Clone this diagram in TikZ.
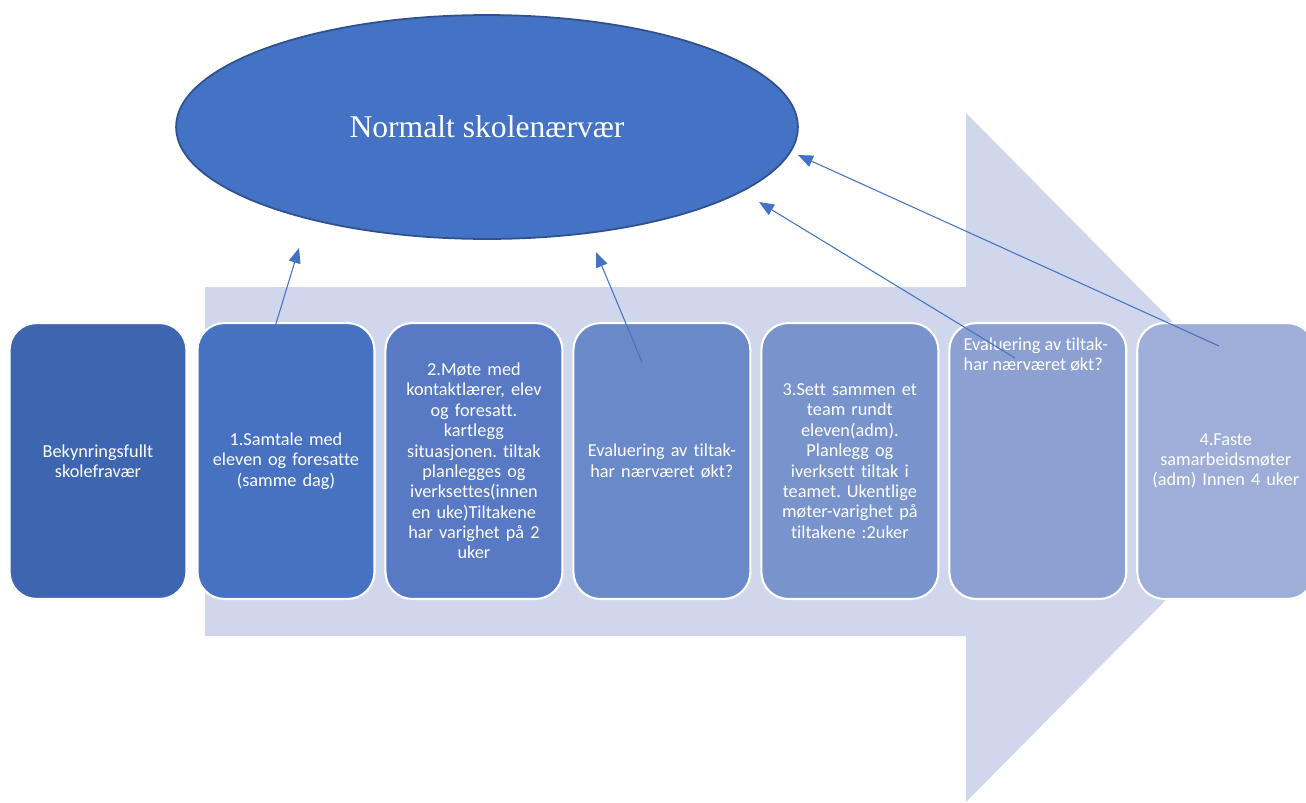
\documentclass[tikz,border=0pt]{standalone}
\usepackage{fontspec}
\setmainfont{Carlito}[Ligatures=NoCommon]
\newfontfamily\ovalfont{Liberation Serif}
\usetikzlibrary{positioning,shapes.geometric,arrows.meta}
\frenchspacing

\definecolor{arrowbg}{HTML}{D0D6EB}
\definecolor{ovalfill}{HTML}{4472C4}
\definecolor{ovaledge}{HTML}{2F528F}
\definecolor{linkblue}{HTML}{4472C4}
\definecolor{boxA}{HTML}{3E66B0}
\definecolor{boxB}{HTML}{4672C1}
\definecolor{boxC}{HTML}{5879C4}
\definecolor{boxD}{HTML}{6A89C8}
\definecolor{boxE}{HTML}{7994CC}
\definecolor{boxF}{HTML}{8CA1D2}
\definecolor{boxG}{HTML}{9EAED8}

\begin{document}
\begin{tikzpicture}[x=0.02cm, y=-0.02cm,
  >={Triangle[length=0.3cm,width=0.24cm]},
  stepbox/.style={rectangle, rounded corners=0.54cm, draw=white, line width=1.2pt,
    minimum width=3.54cm, minimum height=5.52cm, outer sep=0pt, text=white,
    align=center, text width=3.2cm, font=\fontsize{10.4}{11.6}\selectfont},
  link/.style={->, draw=linkblue, line width=0.6pt}]

  % canvas
  \useasboundingbox (0,0) rectangle (1306,802);

  % big background arrow
  \fill[arrowbg] (205,287) -- (966,287) -- (966,113) -- (1307,457.5)
    -- (966,802) -- (966,636) -- (205,636) -- cycle;

  % goal
  \node[ellipse, fill=ovalfill, draw=ovaledge, line width=1pt,
    minimum width=12.44cm, minimum height=4.48cm, text=white,
    font=\ovalfont\fontsize{18}{20}\selectfont] (goal) at (487,127)
    {Normalt skolenærvær};

  % steps
  \node[stepbox, fill=boxA] (start) at (98,461) {Bekynringsfullt\\skolefravær};
  \node[stepbox, fill=boxB, right=0.22cm of start] (talk)
    {1.Samtale med\\eleven og foresatte\\(samme dag)};
  \node[stepbox, fill=boxC, right=0.22cm of talk] (meet)
    {2.Møte med\\kontaktlærer, elev\\og foresatt.\\kartlegg\\situasjonen. tiltak\\planlegges og\\iverksettes(innen\\en uke)Tiltakene\\har varighet på 2\\uker};
  \node[stepbox, fill=boxD, right=0.22cm of meet] (evalA)
    {Evaluering av tiltak-\\har nærværet økt?};
  \node[stepbox, fill=boxE, right=0.22cm of evalA] (team)
    {3.Sett sammen et\\team rundt\\eleven(adm).\\Planlegg og\\iverksett tiltak i\\teamet. Ukentlige\\møter-varighet på\\tiltakene :2uker};
  \node[stepbox, fill=boxF, right=0.22cm of team] (evalB) {};
  \node[anchor=north west, inner sep=0pt, text=white, align=left,
    font=\fontsize{10.4}{11.6}\selectfont] (evalBtext)
    at ([xshift=0.28cm, yshift=-0.28cm]evalB.north west)
    {Evaluering av tiltak-\\har nærværet økt?};
  \node[stepbox, fill=boxG, right=0.22cm of evalB] (fixed)
    {4.Faste\\samarbeidsmøter\\(adm) Innen 4 uker};

  % feedback arrows
  \coordinate (fromtalk) at (271,340);
  \coordinate (totalk) at (299,248);
  \coordinate (fromevalA) at (642,362);
  \coordinate (toevalA) at (596,252);
  \coordinate (fromevalB) at (1015,358);
  \coordinate (toevalB) at (759,202);
  \coordinate (fromfixed) at (1219,346);
  \coordinate (tofixed) at (798,155);
  \draw[link] (fromtalk) -- (totalk);
  \draw[link] (fromevalA) -- (toevalA);
  \draw[link] (fromevalB) -- (toevalB);
  \draw[link] (fromfixed) -- (tofixed);

\end{tikzpicture}
\end{document}
